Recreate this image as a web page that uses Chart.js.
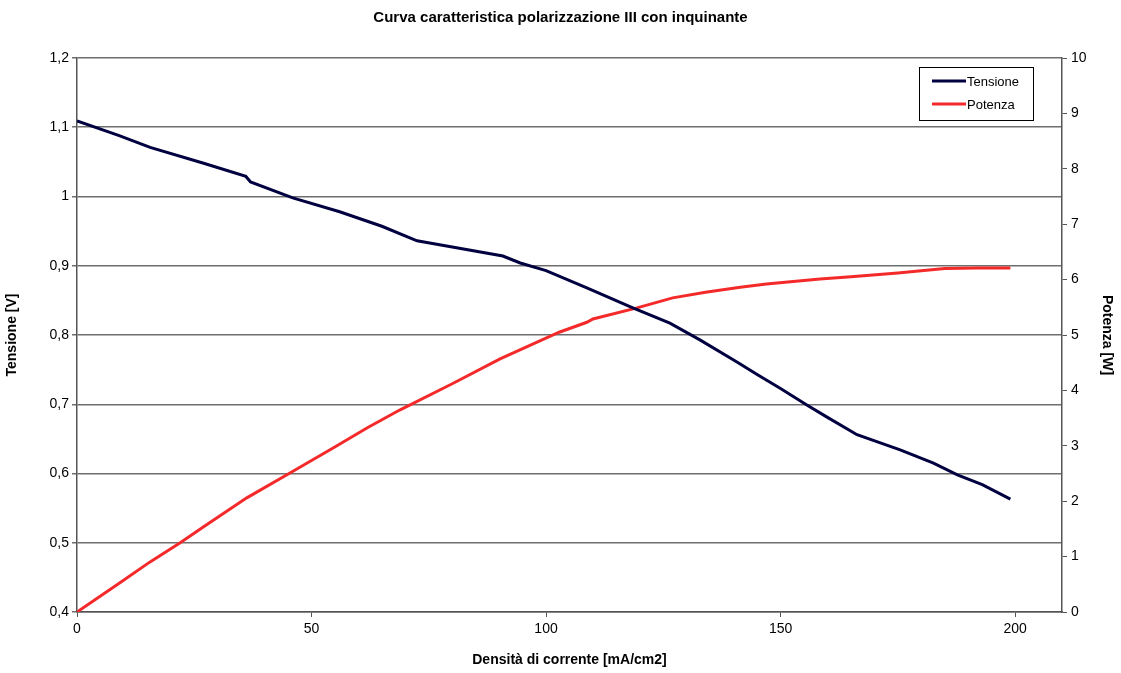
<!DOCTYPE html>
<html lang="it">
<head>
    <meta charset="UTF-8">
    <title>Curva caratteristica polarizzazione III con inquinante</title>
    <style>
        html, body {
            margin: 0;
            padding: 0;
            background: #fff;
        }
        #chartContainer {
            width: 1121px;
            height: 673px;
        }
    </style>
    <script src="https://cdn.jsdelivr.net/npm/chart.js"></script>
</head>
<body>
    <div id="chartContainer">
        <canvas id="polChart"></canvas>
    </div>

    <script>
        // Dati
        const xTensione = [0, 9, 15.6, 27, 36, 37, 46, 56, 65, 72.5, 80, 90.8, 94.5, 100, 108.7, 118.5, 126.4, 132.8, 140.7, 145, 149.9, 155.6, 160, 166.3, 175.5, 182.6, 187.7, 193, 199];
        const tensione = [1.109, 1.088, 1.071, 1.048, 1.029, 1.021, 0.998, 0.978, 0.957, 0.936, 0.927, 0.914, 0.904, 0.893, 0.868, 0.839, 0.817, 0.793, 0.761, 0.743, 0.723, 0.699, 0.681, 0.656, 0.634, 0.615, 0.598, 0.584, 0.563];

        const xPotenza = [0, 9, 15.5, 22, 27, 36.2, 45.4, 54.6, 62, 68.9, 80, 90.2, 102.8, 108.7, 110, 119.4, 127, 134, 141.4, 147, 158.4, 165, 175, 185, 192, 199];
        const potenza = [0, 0.52, 0.9, 1.25, 1.54, 2.06, 2.51, 2.96, 3.33, 3.65, 4.12, 4.57, 5.05, 5.23, 5.29, 5.49, 5.67, 5.77, 5.86, 5.92, 6.01, 6.05, 6.12, 6.2, 6.21, 6.21];

        // Etichette degli assi
        const xTicks = [0, 50, 100, 150, 200];
        const yTensioneTicks = [0.4, 0.5, 0.6, 0.7, 0.8, 0.9, 1.0, 1.1, 1.2];
        const yPotenzaTicks = [0, 1, 2, 3, 4, 5, 6, 7, 8, 9, 10];

        const FONT = "'Liberation Sans', Arial, sans-serif";

        function toPoints(xs, ys) {
            return xs.map((x, i) => ({ x: x, y: ys[i] }));
        }

        function fmt(v) {
            const r = Math.round(v * 10) / 10;
            return String(r).replace('.', ',');
        }

        // Legenda dentro l'area del grafico, con bordo
        const boxLegend = {
            id: 'boxLegend',
            afterDraw(chart) {
                const ctx = chart.ctx;
                const area = chart.chartArea;
                const x = area.right - 143, y = area.top + 9, w = 114, h = 53;
                ctx.save();
                ctx.fillStyle = '#fff';
                ctx.fillRect(x, y, w, h);
                ctx.strokeStyle = '#000';
                ctx.lineWidth = 1;
                ctx.strokeRect(x + 0.5, y + 0.5, w, h);
                ctx.font = '13px ' + FONT;
                ctx.textBaseline = 'middle';
                chart.data.datasets.forEach((ds, i) => {
                    const ly = y + 14 + i * 23;
                    ctx.strokeStyle = ds.borderColor;
                    ctx.lineWidth = 3;
                    ctx.beginPath();
                    ctx.moveTo(x + 13, ly);
                    ctx.lineTo(x + 47, ly);
                    ctx.stroke();
                    ctx.fillStyle = '#000';
                    ctx.fillText(ds.label, x + 48, ly + 1);
                });
                ctx.restore();
            }
        };

        const ctx = document.getElementById('polChart').getContext('2d');
        const polChart = new Chart(ctx, {
            type: 'scatter',
            data: {
                datasets: [{
                    label: 'Tensione',
                    data: toPoints(xTensione, tensione),
                    yAxisID: 'y',
                    showLine: true,
                    borderColor: '#000040',
                    borderWidth: 3,
                    pointRadius: 0,
                    tension: 0
                }, {
                    label: 'Potenza',
                    data: toPoints(xPotenza, potenza),
                    yAxisID: 'y1',
                    showLine: true,
                    borderColor: '#f42a2a',
                    borderWidth: 3,
                    pointRadius: 0,
                    tension: 0
                }]
            },
            options: {
                responsive: true,
                maintainAspectRatio: false,
                animation: false,
                layout: { padding: 0 },
                plugins: {
                    legend: { display: false },
                    tooltip: { enabled: false },
                    title: {
                        display: true,
                        text: 'Curva caratteristica polarizzazione III con inquinante',
                        color: '#000',
                        font: { family: FONT, size: 15, weight: 'bold' },
                        padding: { top: 9, bottom: 31 }
                    }
                },
                scales: {
                    x: {
                        type: 'linear',
                        min: 0,
                        max: 210,
                        afterBuildTicks: s => { s.ticks = xTicks.map(v => ({ value: v })); },
                        afterFit: s => { s.height = 61; },
                        ticks: {
                            color: '#000',
                            font: { family: FONT, size: 14 },
                            padding: 4,
                            maxRotation: 0
                        },
                        grid: { drawOnChartArea: false, tickLength: 5, color: '#555' },
                        border: { color: '#555', width: 1.5 },
                        title: {
                            display: true,
                            text: 'Densità di corrente [mA/cm2]',
                            color: '#000',
                            font: { family: FONT, size: 14, weight: 'bold' },
                            padding: { top: 6 }
                        }
                    },
                    y: {
                        position: 'left',
                        min: 0.4,
                        max: 1.2,
                        afterBuildTicks: s => { s.ticks = yTensioneTicks.map(v => ({ value: v })); },
                        afterFit: s => { s.width = 77; },
                        ticks: {
                            color: '#000',
                            font: { family: FONT, size: 14 },
                            padding: 3,
                            callback: v => fmt(v)
                        },
                        grid: { color: '#6e6e6e', lineWidth: 1.5, tickLength: 5 },
                        border: { color: '#555', width: 1.5 },
                        title: {
                            display: true,
                            text: 'Tensione [V]',
                            color: '#000',
                            font: { family: FONT, size: 14, weight: 'bold' },
                            padding: { bottom: 6 }
                        }
                    },
                    y1: {
                        position: 'right',
                        min: 0,
                        max: 10,
                        afterBuildTicks: s => { s.ticks = yPotenzaTicks.map(v => ({ value: v })); },
                        afterFit: s => { s.width = 59; },
                        ticks: {
                            color: '#000',
                            font: { family: FONT, size: 14 },
                            padding: 4
                        },
                        grid: { drawOnChartArea: false, tickLength: 5, color: '#555' },
                        border: { color: '#555', width: 1.5 },
                        title: {
                            display: true,
                            text: 'Potenza [W]',
                            color: '#000',
                            font: { family: FONT, size: 14, weight: 'bold' },
                            padding: { top: 6 }
                        }
                    }
                }
            },
            plugins: [boxLegend]
        });
    </script>
</body>
</html>
